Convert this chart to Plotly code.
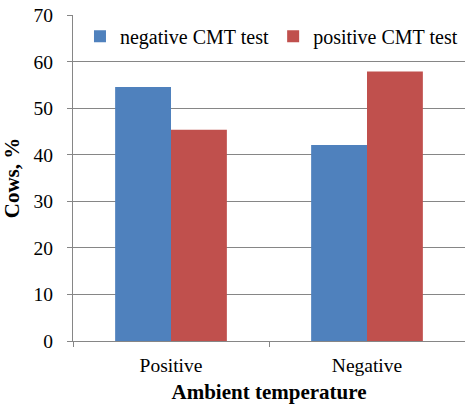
import plotly.graph_objects as go

categories = ["Positive", "Negative"]
negative_cmt = [54.6, 42.1]
positive_cmt = [45.4, 57.9]
y_ticks = [0, 10, 20, 30, 40, 50, 60, 70]

FONT = "Liberation Serif, Times New Roman, serif"

fig = go.Figure()
fig.add_trace(go.Bar(name="negative CMT test", x=categories, y=negative_cmt,
                     marker=dict(color="#4F81BD", line=dict(width=0)), legend="legend"))
fig.add_trace(go.Bar(name="positive CMT test", x=categories, y=positive_cmt,
                     marker=dict(color="#C0504D", line=dict(width=0)), legend="legend2"))

legend_common = dict(orientation="h", yanchor="middle", xanchor="left", y=0.935,
                     bgcolor="rgba(0,0,0,0)", borderwidth=0,
                     font=dict(family=FONT, size=20, color="black"),
                     itemwidth=30, itemclick=False)

fig.update_layout(
    width=465, height=406,
    margin=dict(l=73, r=0, t=15, b=65, autoexpand=False),
    plot_bgcolor="white", paper_bgcolor="white",
    barmode="group", bargap=0.43, bargroupgap=0,
    font=dict(family=FONT, size=19.5, color="black"),
    showlegend=True,
    legend=dict(x=0.0178, **legend_common),
    legend2=dict(x=0.5106, **legend_common),
)
fig.update_xaxes(
    type="category", tickson="boundaries", ticks="outside", ticklen=5,
    tickcolor="#868686", showline=True, linecolor="#868686", linewidth=1,
    showgrid=False, automargin=True, ticklabelstandoff=7,
    tickfont=dict(family=FONT, size=19.5, color="black"),
    title=dict(text="<b>Ambient temperature</b>", font=dict(family=FONT, size=21, color="black"),
               standoff=8),
)
fig.update_yaxes(
    range=[0, 70.05], tickvals=y_ticks, ticks="outside", ticklen=5,
    tickcolor="#868686", showline=True, linecolor="#868686", linewidth=1,
    showgrid=True, gridcolor="#868686", gridwidth=1, zeroline=False,
    automargin=True, ticklabelstandoff=10, ticklabeloverflow="allow",
    tickfont=dict(family=FONT, size=19.5, color="black"),
    title=dict(text="<b>Cows, %</b>", font=dict(family=FONT, size=21, color="black"),
               standoff=13),
)

fig.write_html("out.html", config={"displayModeBar": False},
               post_script="document.body.style.margin='0';")
